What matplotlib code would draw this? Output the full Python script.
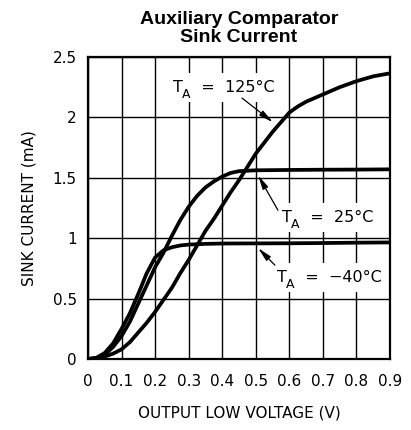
import matplotlib
matplotlib.use("Agg")
import matplotlib.pyplot as plt

# Output low voltage (V) vs sink current (mA) at three ambient temperatures
v_m40 = [0, 0.025, 0.05, 0.075, 0.1, 0.125, 0.15, 0.175, 0.2, 0.225, 0.25,
         0.275, 0.3, 0.35, 0.4, 0.5, 0.6, 0.7, 0.8, 0.9]
i_m40 = [0, 0.01, 0.05, 0.13, 0.25, 0.38, 0.54, 0.71, 0.84, 0.90, 0.925,
         0.94, 0.947, 0.953, 0.956, 0.957, 0.958, 0.96, 0.963, 0.965]

v_25 = [0, 0.025, 0.05, 0.075, 0.1, 0.125, 0.15, 0.175, 0.2, 0.225, 0.25,
        0.275, 0.3, 0.325, 0.35, 0.375, 0.4, 0.425, 0.45, 0.5, 0.6, 0.7,
        0.8, 0.9]
i_25 = [0, 0.008, 0.035, 0.10, 0.19, 0.31, 0.46, 0.61, 0.76, 0.88, 1.02,
        1.15, 1.26, 1.35, 1.42, 1.47, 1.51, 1.54, 1.555, 1.562, 1.565,
        1.567, 1.568, 1.57]

v_125 = [0, 0.025, 0.05, 0.075, 0.1, 0.125, 0.15, 0.175, 0.2, 0.225, 0.25,
         0.275, 0.3, 0.325, 0.35, 0.375, 0.4, 0.425, 0.45, 0.475, 0.5,
         0.525, 0.55, 0.575, 0.6, 0.625, 0.65, 0.7, 0.75, 0.8, 0.85, 0.9]
i_125 = [0, 0.004, 0.02, 0.045, 0.08, 0.14, 0.22, 0.30, 0.39, 0.49, 0.59,
         0.71, 0.82, 0.94, 1.06, 1.16, 1.27, 1.38, 1.48, 1.59, 1.70,
         1.79, 1.88, 1.96, 2.04, 2.09, 2.13, 2.19, 2.25, 2.30, 2.34, 2.365]

x_ticks = [0, 0.1, 0.2, 0.3, 0.4, 0.5, 0.6, 0.7, 0.8, 0.9]
x_tick_labels = ["0", "0.1", "0.2", "0.3", "0.4", "0.5", "0.6", "0.7", "0.8", "0.9"]
y_ticks = [0, 0.5, 1, 1.5, 2, 2.5]
y_tick_labels = ["0", "0.5", "1", "1.5", "2", "2.5"]

plt.rcParams["font.family"] = ["DejaVu Sans"]

fig = plt.figure(figsize=(4.11, 4.30), dpi=100)
ax = fig.add_axes([88 / 411, 71 / 430, 302 / 411, 302 / 430])

ax.set_xlim(0, 0.9)
ax.set_ylim(0, 2.5)
ax.set_xticks(x_ticks)
ax.set_xticklabels(x_tick_labels)
ax.set_yticks(y_ticks)
ax.set_yticklabels(y_tick_labels)
ax.tick_params(axis="x", length=0, labelsize=11, pad=11)
ax.tick_params(axis="y", length=0, labelsize=11, pad=8)
ax.grid(True, color="black", linewidth=1.0, zorder=1)
ax.set_axisbelow(True)
for s in ax.spines.values():
    s.set_linewidth(1.6)
    s.set_zorder(5)

for v, i in [(v_125, i_125), (v_25, i_25), (v_m40, i_m40)]:
    ax.plot(v, i, color="black", linewidth=2.7, solid_capstyle="round",
            solid_joinstyle="round", zorder=4)

ax.set_xlabel("OUTPUT LOW VOLTAGE (V)", fontsize=11, labelpad=12)
ax.set_ylabel("SINK CURRENT (mA)", fontsize=11, labelpad=12)

box = dict(facecolor="white", edgecolor="none", pad=5)
labels = [
    ("125°C", 0.253, 2.21, (0.459, 2.16), (0.551, 1.96)),
    ("25°C", 0.577, 1.136, (0.566, 1.232), (0.507, 1.52)),
    ("−40°C", 0.562, 0.64, (0.557, 0.777), (0.507, 0.918)),
]
for temp, tx, ty, tail, tip in labels:
    # "T" with a lowered "A" subscript, then the temperature
    ax.annotate("  =  " + temp, xy=(tx, ty), xytext=(13, 0),
                textcoords="offset points", fontsize=11.5, ha="left",
                va="baseline", bbox=box, zorder=3)
    ax.text(tx, ty, "T", fontsize=11.5, ha="left", va="baseline",
            bbox=box, zorder=3)
    ax.annotate("A", xy=(tx, ty), xytext=(6.4, -4.5),
                textcoords="offset points", fontsize=9, ha="left",
                va="baseline", zorder=3.5)
    ax.annotate("", xy=tip, xytext=tail,
                arrowprops=dict(arrowstyle="-|>,head_length=0.7,head_width=0.15",
                                color="black", lw=0.9, mutation_scale=12,
                                shrinkA=0, shrinkB=0),
                zorder=6)

fig.text(239 / 411, 1 - 20 / 430, "Auxiliary Comparator", ha="center",
         va="center", fontsize=14, fontweight="bold", family="Liberation Sans")
fig.text(239 / 411, 1 - 37 / 430, "Sink Current", ha="center",
         va="center", fontsize=14, fontweight="bold", family="Liberation Sans")

fig.savefig("out.png", dpi=100)
